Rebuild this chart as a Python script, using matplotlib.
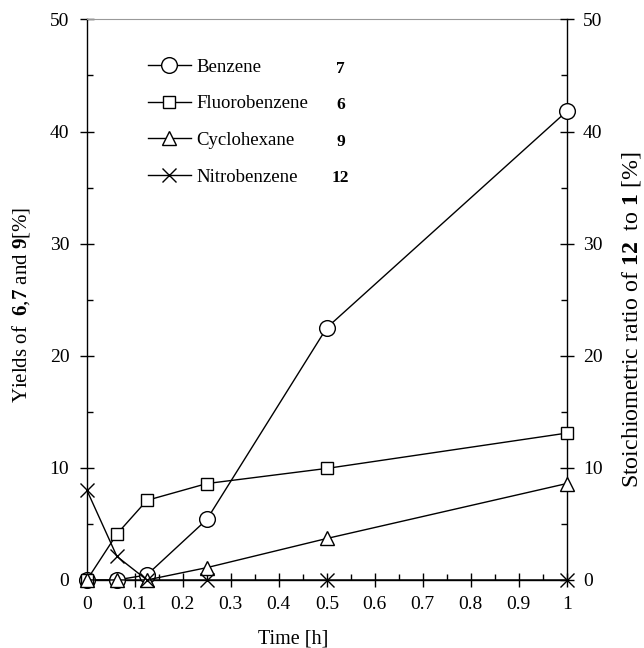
import matplotlib
matplotlib.use("Agg")
import matplotlib.pyplot as plt
from matplotlib.ticker import MultipleLocator, FixedLocator

plt.rcParams['font.family'] = ['Liberation Serif', 'DejaVu Serif']
plt.rcParams['mathtext.fontset'] = 'custom'
plt.rcParams['mathtext.rm'] = 'Liberation Serif'
plt.rcParams['mathtext.bf'] = 'Liberation Serif:bold'

# sampling times [h]
time_h = [0, 0.0625, 0.125, 0.25, 0.5, 1.0]

benzene = [0, 0, 0.45, 5.4, 22.5, 41.8]
fluorobenzene = [0, 4.1, 7.1, 8.6, 9.95, 13.1]
cyclohexane = [0, 0, 0, 1.1, 3.7, 8.6]
nitrobenzene = [8.0, 2.1, 0, 0, 0, 0]

series_names = ['Benzene', 'Fluorobenzene', 'Cyclohexane', 'Nitrobenzene']
compound_ids = ['7', '6', '9', '12']
x_ticks = [0, 0.1, 0.2, 0.3, 0.4, 0.5, 0.6, 0.7, 0.8, 0.9, 1.0]
x_ticklabels = ['0', '0.1', '0.2', '0.3', '0.4', '0.5', '0.6', '0.7', '0.8', '0.9', '1']

fig = plt.figure(figsize=(6.44, 6.48), dpi=100)
ax = fig.add_axes([0.135, 0.105, 0.745, 0.865])

style = dict(color='black', lw=1.0, mfc='white', mec='black', mew=1.0, clip_on=False, zorder=5)
ax.plot(time_h, benzene, marker='o', ms=11.3, label=series_names[0], **style)
ax.plot(time_h, fluorobenzene, marker='s', ms=9, label=series_names[1], **style)
ax.plot(time_h, cyclohexane, marker='^', ms=10, label=series_names[2], **style)
ax.plot(time_h, nitrobenzene, marker='x', ms=10, label=series_names[3], **style)

ax.set_xlim(0, 1)
ax.set_ylim(0, 50)
ax.set_xticks(x_ticks)
ax.set_xticklabels(x_ticklabels)
ax.xaxis.set_minor_locator(FixedLocator([0.05 + 0.1 * i for i in range(10)]))
ax.yaxis.set_major_locator(MultipleLocator(10))
ax.yaxis.set_minor_locator(MultipleLocator(5))
ax.tick_params(which='major', direction='inout', length=9.4, width=1.0, labelsize=14)
ax.tick_params(axis='x', which='major', pad=7)
ax.tick_params(axis='y', which='major', pad=8)
ax.tick_params(which='minor', direction='in', length=4.3, width=1.0)

for side in ['left', 'bottom', 'right']:
    ax.spines[side].set_linewidth(1.0)
ax.spines['top'].set_color('#999999')
ax.spines['top'].set_linewidth(0.8)

ax.set_xlabel('Time [h]', fontsize=14.5)
ax.xaxis.set_label_coords(0.43, -0.088)
ax.set_ylabel(r'Yields of  $\mathbf{6}$,$\mathbf{7}$ and $\mathbf{9}$[%]', fontsize=15)
ax.yaxis.set_label_coords(-0.115, 0.49)

ax2 = ax.twinx()
ax2.set_ylim(0, 50)
ax2.yaxis.set_major_locator(MultipleLocator(10))
ax2.yaxis.set_minor_locator(MultipleLocator(5))
ax2.tick_params(which='major', direction='inout', length=9.4, width=1.0, labelsize=14, pad=7)
ax2.tick_params(which='minor', direction='in', length=4.3, width=1.0)
for s in ax2.spines.values():
    s.set_visible(False)
ax2.set_ylabel(r'Stoichiometric ratio of $\mathbf{12}$  to $\mathbf{1}$ [%]', fontsize=17.2)
ax2.yaxis.set_label_coords(1.112, 0.464)

leg = ax.legend(loc='upper left', bbox_to_anchor=(0.127, 0.93), frameon=False,
                handlelength=2.3, handletextpad=0.3, labelspacing=1.04, fontsize=13.5,
                borderaxespad=0, borderpad=0)
for i, cid in enumerate(compound_ids):
    ax.text(0.529, 0.912 - i * 0.065, cid, transform=ax.transAxes, fontsize=12.5,
            fontweight='bold', ha='center', va='center')

fig.savefig('out.png', dpi=100)
